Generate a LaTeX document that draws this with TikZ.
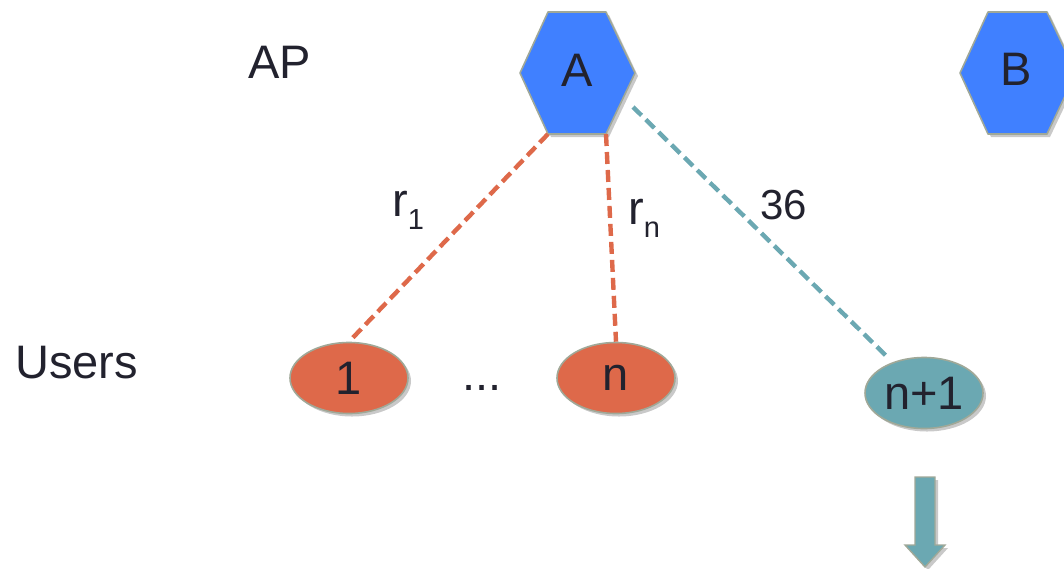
\documentclass[tikz,border=0pt]{standalone}
\usepackage{fontspec}
\setmainfont{Liberation Sans}
\usetikzlibrary{shapes.geometric,shadows}

\definecolor{apblue}{RGB}{64,128,255}
\definecolor{userorange}{RGB}{222,105,74}
\definecolor{userteal}{RGB}{107,168,178}
\definecolor{rimgray}{RGB}{160,168,152}
\definecolor{inkdark}{RGB}{34,34,46}

\newcommand{\linksub}[1]{\raisebox{-13pt}{\fontsize{29}{33}\selectfont #1}}

\tikzset{
  bigtext/.style={font=\fontsize{47}{54}\selectfont, text=inkdark, inner sep=0pt},
  softshadow/.style={drop shadow={shadow xshift=3pt, shadow yshift=-3pt, opacity=0.3, fill=black!70}},
  apshape/.style={fill=apblue, draw=rimgray, line width=1.6pt, line join=round, softshadow},
  userbox/.style={ellipse, draw=rimgray, line width=1.6pt, minimum width=118pt, minimum height=71pt,
                  inner sep=0pt, bigtext, softshadow},
  linkdash/.style={line width=4.4pt, dash pattern=on 12pt off 6pt},
}

\begin{document}
\begin{tikzpicture}[x=1pt, y=-1pt]
  \useasboundingbox (0,0) rectangle (1064,568);

  % access point A
  \coordinate (A-l)  at (520,73);
  \coordinate (A-tl) at (548,12);
  \coordinate (A-tr) at (606,12);
  \coordinate (A-r)  at (635,73);
  \coordinate (A-br) at (606,134);
  \coordinate (A-bl) at (548,134);
  \path[apshape] (A-l) -- (A-tl) -- (A-tr) -- (A-r) -- (A-br) -- (A-bl) -- cycle;
  \node[bigtext, anchor=base] (A) at (577,86) {A};

  % access point B (partly beyond the right edge)
  \begin{scope}
    \clip (0,0) rectangle (1064,568);
    \coordinate (B-l)  at (960,73);
    \coordinate (B-tl) at (988,12);
    \coordinate (B-tr) at (1047,12);
    \coordinate (B-r)  at (1076,73);
    \coordinate (B-br) at (1047,134);
    \coordinate (B-bl) at (988,134);
    \path[apshape] (B-l) -- (B-tl) -- (B-tr) -- (B-r) -- (B-br) -- (B-bl) -- cycle;
  \end{scope}
  \node[bigtext, anchor=base] (B) at (1016,85) {B};

  % row labels
  \node[bigtext, anchor=base west] (ap) at (248,78) {AP};
  \node[bigtext, anchor=base west] (users) at (15,378) {Users};

  % users
  \node[userbox, fill=userorange, text height=32pt, text depth=0pt] (u1) at (349,378) {1};
  \node[userbox, fill=userorange, text height=24pt, text depth=0pt] (un) at (616,378) {n};
  \node[userbox, fill=userteal, text height=32pt, text depth=0pt] (un1) at (924,393) {n+1};
  \node[bigtext, anchor=base] (dots) at (482,390) {...};

  % links
  \coordinate (A-out) at (633,107);
  \draw[linkdash, draw=userorange] (A-bl) -- (u1.north);
  \draw[linkdash, draw=userorange] (A-br) -- (un.north);
  \draw[linkdash, draw=userteal, shorten >=6pt] (A-out) -- (un1);

  % link labels
  \node[bigtext, anchor=base west] (r1) at (392,216) {r\linksub{1}};
  \node[bigtext, anchor=base west] (rn) at (628,224) {r\linksub{n}};
  \node[bigtext, anchor=base west, font=\fontsize{42}{48}\selectfont] (w36) at (760,219) {36};

  % downward block arrow below user n+1
  \path[fill=userteal, draw=rimgray, line width=1.4pt, line join=miter, softshadow]
    (915,477) -- (935,477) -- (935,545) -- (945,545) -- (925,567) -- (905,545) -- (915,545) -- cycle;
\end{tikzpicture}
\end{document}
